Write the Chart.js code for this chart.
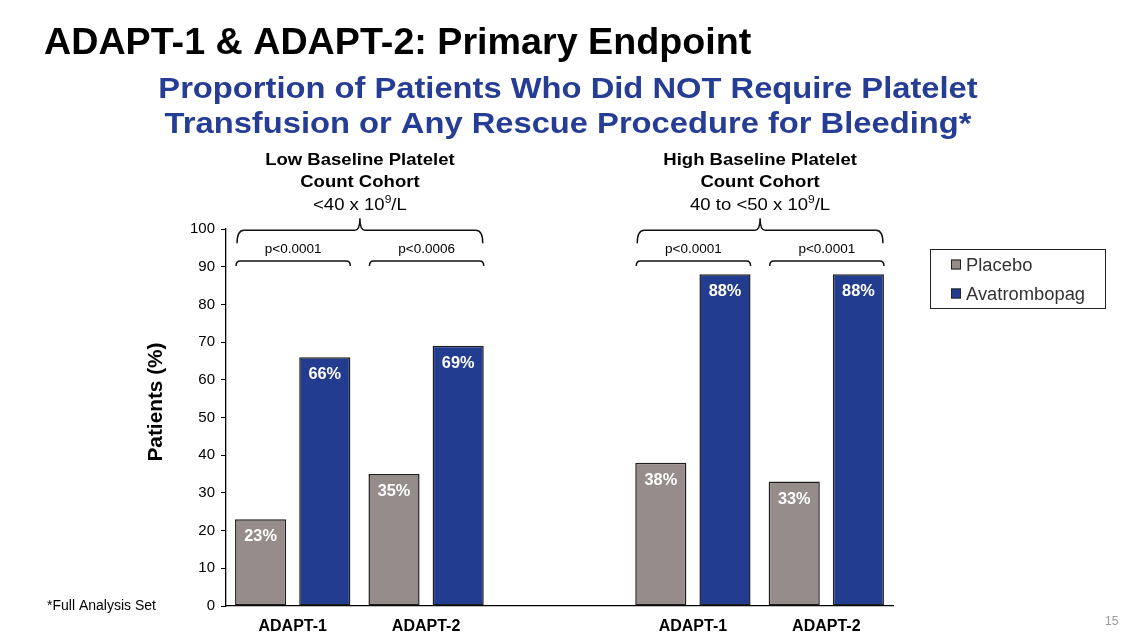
<!DOCTYPE html>
<html>
<head>
<meta charset="utf-8">
<script src="https://cdn.jsdelivr.net/npm/chart.js@4.4.1/dist/chart.umd.min.js"></script>
<style>
  html, body { margin: 0; padding: 0; background: #fff; }
  body { width: 1129px; height: 635px; overflow: hidden; }
</style>
</head>
<body>
<canvas id="chart" width="1129" height="635"></canvas>
<script>
// Dados
const categories = ['ADAPT-1', 'ADAPT-2', '', 'ADAPT-1', 'ADAPT-2'];
const placebo = [23, 35, null, 38, 33];
const avatrombopag = [66, 69, null, 88, 88];
const yTicks = [0, 10, 20, 30, 40, 50, 60, 70, 80, 90, 100];
const pValues = ['p<0.0001', 'p<0.0006', '', 'p<0.0001', 'p<0.0001'];
const cohortHeaders = [
    { lines: ['Low Baseline Platelet', 'Count Cohort'], unit: ['<40 x 10', '9', '/L'], from: 0, to: 1 },
    { lines: ['High Baseline Platelet', 'Count Cohort'], unit: ['40 to <50 x 10', '9', '/L'], from: 3, to: 4 }
];

const FONT = '"Liberation Sans", Arial, sans-serif';

// texto com esticamento horizontal
function txt(ctx, s, x, y, font, align, sx) {
    ctx.save();
    ctx.font = font;
    ctx.textAlign = align || 'left';
    ctx.textBaseline = 'alphabetic';
    ctx.translate(x, y);
    ctx.scale(sx || 1, 1);
    ctx.fillText(s, 0, 0);
    ctx.restore();
}

const annotations = {
    id: 'annotations',
    afterDraw(chart) {
        const ctx = chart.ctx;
        const y = chart.scales.y;
        const m0 = chart.getDatasetMeta(0);
        const m1 = chart.getDatasetMeta(1);

        // títulos
        ctx.fillStyle = '#000';
        txt(ctx, 'ADAPT-1 & ADAPT-2: Primary Endpoint', 44, 54, 'bold 36px ' + FONT, 'left', 1.046);
        ctx.fillStyle = '#263d95';
        txt(ctx, 'Proportion of Patients Who Did NOT Require Platelet', 568, 98, 'bold 30px ' + FONT, 'center', 1.09);
        txt(ctx, 'Transfusion or Any Rescue Procedure for Bleeding*', 568, 133, 'bold 30px ' + FONT, 'center', 1.09);
        ctx.fillStyle = '#000';
        txt(ctx, '*Full Analysis Set', 47, 610, '14px ' + FONT, 'left', 1);
        ctx.fillStyle = '#999';
        txt(ctx, '15', 1105, 625, '12px ' + FONT, 'left', 1);

        // título do eixo y
        ctx.save();
        ctx.fillStyle = '#000';
        ctx.translate(156, 402);
        ctx.rotate(-Math.PI / 2);
        ctx.font = 'bold 20px ' + FONT;
        ctx.textAlign = 'center';
        ctx.textBaseline = 'middle';
        ctx.scale(1.04, 1);
        ctx.fillText('Patients (%)', 0, 0);
        ctx.restore();

        // rótulos dentro das barras
        ctx.fillStyle = '#fff';
        chart.data.datasets.forEach((ds, di) => {
            chart.getDatasetMeta(di).data.forEach((bar, i) => {
                if (ds.data[i] == null) return;
                txt(ctx, Math.round(ds.data[i]) + '%', bar.x, bar.y + 22, 'bold 16px ' + FONT, 'center', 1.02);
            });
        });

        ctx.save();
        ctx.strokeStyle = '#111';
        ctx.lineWidth = 1.5;
        ctx.fillStyle = '#000';

        // chaves dos pares (p-valores)
        const yLine = 261;
        categories.forEach((c, i) => {
            if (!pValues[i]) return;
            const b0 = m0.data[i], b1 = m1.data[i];
            const x0 = b0.x - b0.width / 2 + 1;
            const x1 = b1.x + b1.width / 2;
            ctx.beginPath();
            ctx.moveTo(x0, yLine + 5);
            ctx.quadraticCurveTo(x0, yLine, x0 + 4, yLine);
            ctx.lineTo(x1 - 4, yLine);
            ctx.quadraticCurveTo(x1, yLine, x1, yLine + 5);
            ctx.stroke();
            txt(ctx, pValues[i], (x0 + x1) / 2, 253, '13px ' + FONT, 'center', 1.04);
        });

        // chaves de coorte e cabeçalhos
        const yBrace = y.getPixelForValue(99.7);
        cohortHeaders.forEach(h => {
            const b0 = m0.data[h.from], b1 = m1.data[h.to];
            const x0 = b0.x - b0.width / 2 + 2;
            const x1 = b1.x + b1.width / 2 - 1;
            const xm = (x0 + x1) / 2;
            ctx.beginPath();
            ctx.moveTo(x0, yBrace + 13);
            ctx.quadraticCurveTo(x0, yBrace, x0 + 7, yBrace);
            ctx.lineTo(xm - 5, yBrace);
            ctx.quadraticCurveTo(xm, yBrace, xm, yBrace - 12);
            ctx.quadraticCurveTo(xm, yBrace, xm + 5, yBrace);
            ctx.lineTo(x1 - 7, yBrace);
            ctx.quadraticCurveTo(x1, yBrace, x1, yBrace + 13);
            ctx.stroke();

            txt(ctx, h.lines[0], xm, 165, 'bold 17px ' + FONT, 'center', 1.09);
            txt(ctx, h.lines[1], xm, 187, 'bold 17px ' + FONT, 'center', 1.09);
            // unidade com expoente
            const sx = 1.09;
            ctx.font = '17px ' + FONT;
            const wA = ctx.measureText(h.unit[0]).width * sx;
            const wC = ctx.measureText(h.unit[2]).width * sx;
            ctx.font = '11px ' + FONT;
            const wB = ctx.measureText(h.unit[1]).width * sx;
            const xs = xm - (wA + wB + wC) / 2;
            txt(ctx, h.unit[0], xs, 210, '17px ' + FONT, 'left', sx);
            txt(ctx, h.unit[1], xs + wA, 203, '11px ' + FONT, 'left', sx);
            txt(ctx, h.unit[2], xs + wA + wB, 210, '17px ' + FONT, 'left', sx);
        });
        ctx.restore();

        // legenda
        ctx.save();
        ctx.strokeStyle = '#222';
        ctx.lineWidth = 1;
        ctx.strokeRect(930.5, 249.5, 175, 59);
        chart.data.datasets.forEach((ds, di) => {
            const cy = 264.5 + di * 29;
            ctx.fillStyle = ds.backgroundColor;
            ctx.fillRect(951, cy - 5, 10, 10);
            ctx.strokeRect(951.5, cy - 4.5, 9, 9);
            ctx.fillStyle = '#333';
            txt(ctx, ds.label, 966, cy + 6.5, '18px ' + FONT, 'left', 1.02);
        });
        ctx.restore();
    }
};

new Chart(document.getElementById('chart'), {
    type: 'bar',
    data: {
        labels: categories,
        datasets: [{
            label: 'Placebo',
            data: placebo,
            backgroundColor: '#968d8a',
            borderColor: '#1e1e1e',
            borderWidth: 1.5,
            borderSkipped: false,
            barPercentage: 0.797,
            categoryPercentage: 0.962
        }, {
            label: 'Avatrombopag',
            data: avatrombopag,
            backgroundColor: '#223c8f',
            borderColor: '#1e1e1e',
            borderWidth: 1.5,
            borderSkipped: false,
            barPercentage: 0.797,
            categoryPercentage: 0.962
        }]
    },
    options: {
        responsive: false,
        animation: false,
        layout: { padding: { left: 141, top: 229, right: 236, bottom: 0 } },
        plugins: {
            legend: { display: false },
            tooltip: { enabled: false }
        },
        scales: {
            y: {
                min: 0,
                max: 100,
                afterFit(s) { s.width = 85; },
                afterBuildTicks(s) { s.ticks = yTicks.map(v => ({ value: v })); },
                ticks: {
                    color: '#000',
                    padding: 6,
                    font: { size: 15, family: FONT }
                },
                grid: {
                    drawOnChartArea: false,
                    drawTicks: true,
                    tickLength: 5,
                    color: '#000'
                },
                border: { display: true, color: '#000', width: 1.3 }
            },
            x: {
                afterFit(s) { s.height = 29; },
                ticks: {
                    color: '#000',
                    padding: 3,
                    font: { size: 16, weight: 'bold', family: FONT }
                },
                grid: { display: false },
                border: { display: true, color: '#000', width: 1.3 }
            }
        }
    },
    plugins: [annotations]
});
</script>
</body>
</html>
